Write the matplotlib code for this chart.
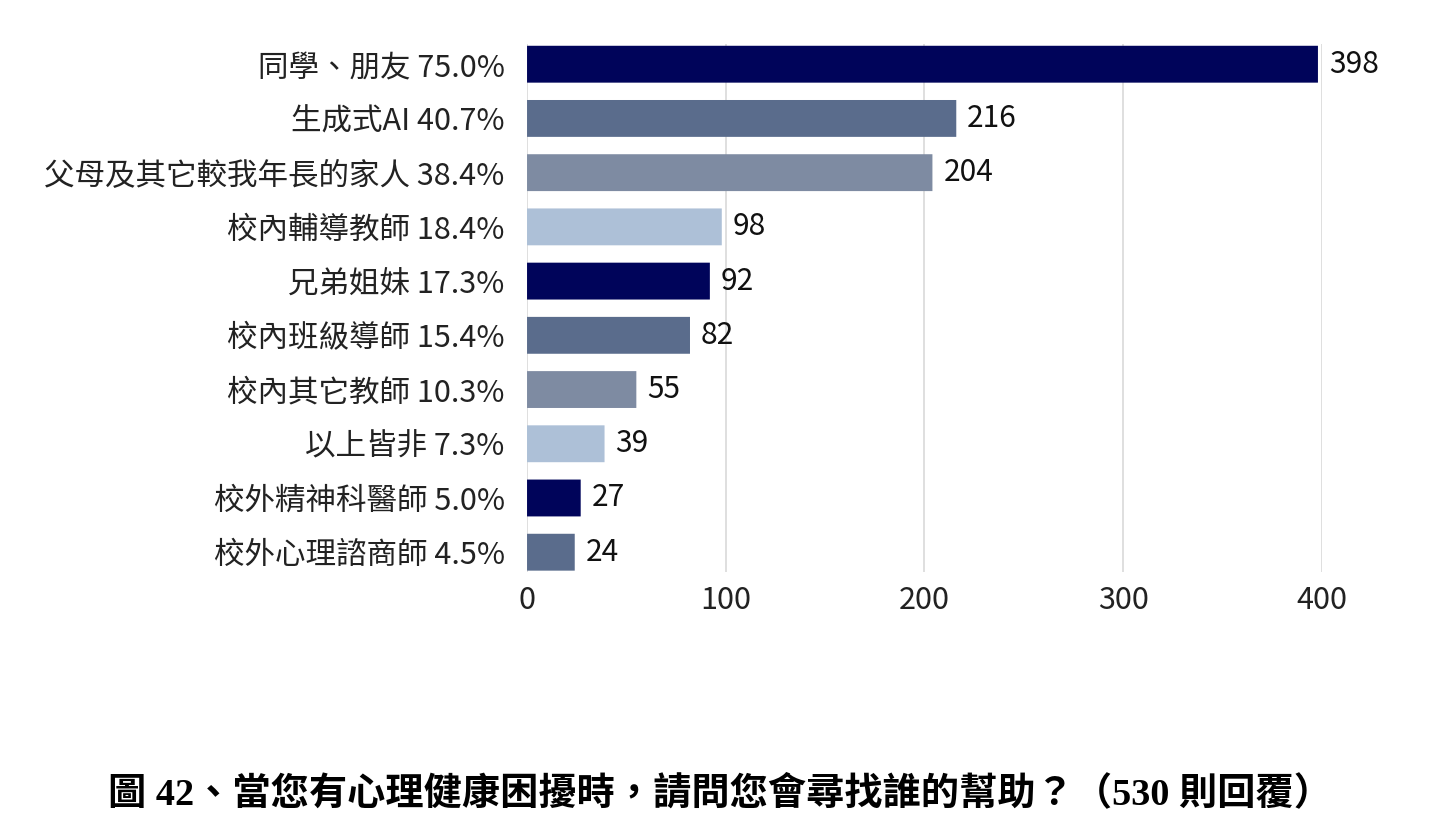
import matplotlib
matplotlib.use("Agg")
import matplotlib.pyplot as plt
from matplotlib.patches import FancyBboxPatch

plt.rcParams['font.family'] = ['Noto Sans CJK TC', 'DejaVu Sans']

categories = ["同學、朋友", "生成式AI", "父母及其它較我年長的家人", "校內輔導教師", "兄弟姐妹",
              "校內班級導師", "校內其它教師", "以上皆非", "校外精神科醫師", "校外心理諮商師"]
percents = ["75.0%", "40.7%", "38.4%", "18.4%", "17.3%", "15.4%", "10.3%", "7.3%", "5.0%", "4.5%"]
counts = [398, 216, 204, 98, 92, 82, 55, 39, 27, 24]
palette = ["#00045a", "#5a6c8c", "#7e8ba2", "#adc0d7"]
xticks = [0, 100, 200, 300, 400]
caption = "圖 42、當您有心理健康困擾時，請問您會尋找誰的幫助？（530 則回覆）"

fig = plt.figure(figsize=(14.4, 8.33), dpi=100)
ax = fig.add_axes([0.366, 0.313, 0.552, 0.634])

ypos = list(range(len(categories)))
colors = [palette[i % len(palette)] for i in ypos]
bh = 0.68
bars = ax.barh(ypos, counts, height=bh, color=colors, zorder=3)

# replace with rounded versions
for b in bars:
    x0, y0 = b.get_x(), b.get_y()
    w, h = b.get_width(), b.get_height()
    b.set_visible(False)
    p = FancyBboxPatch((x0, y0), w, h, boxstyle="round,pad=0,rounding_size=0.06",
                       mutation_aspect=1 / 18.0, facecolor=b.get_facecolor(),
                       edgecolor="none", zorder=3)
    ax.add_patch(p)

for y, c in zip(ypos, counts):
    ax.text(c + 5.5, y, str(c), va='center', ha='left', fontsize=21.5, color='#111111')

ax.set_xlim(0, 400)
ax.set_ylim(9.37, -0.37)
ax.set_xticks(xticks)
ax.set_xticklabels([str(t) for t in xticks], fontsize=22, color='#222222')
ax.set_yticks(ypos)
ax.set_yticklabels([f"{c} {p}" for c, p in zip(categories, percents)], fontsize=22, color='#222222')
ax.tick_params(axis='both', length=0)
ax.tick_params(axis='y', pad=16)
ax.tick_params(axis='x', pad=9)
ax.grid(axis='x', color='#d9d9d9', linewidth=1.2, zorder=0)
for s in ax.spines.values():
    s.set_visible(False)

fig.text(0.5, 0.047, caption, ha='center', va='center', fontsize=27.5, fontweight='bold',
         family=['Liberation Serif', 'Noto Sans CJK TC'], color='black')

fig.savefig("out.png", dpi=100, facecolor='white')
